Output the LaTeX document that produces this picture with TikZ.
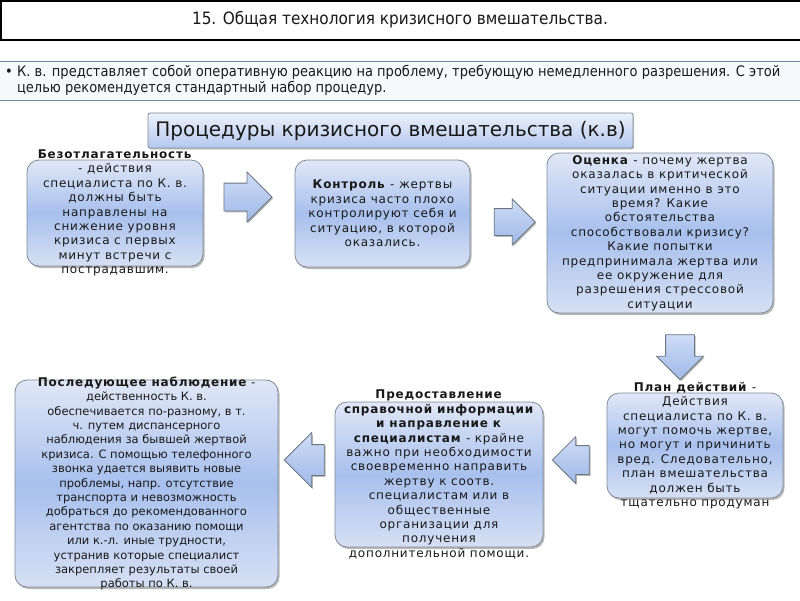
\documentclass[tikz,border=0pt]{standalone}
\usepackage{fontspec}
\setmainfont{DejaVu Sans}
\newfontfamily\condfont{DejaVu Sans Condensed}
\newfontfamily\boxfont{DejaVu Sans}[LetterSpace=6.5]
\usepackage{tikz}
\usetikzlibrary{shapes.arrows, shadows}
\usepackage{xcolor}
\definecolor{boxTop}{RGB}{224, 231, 247}
\definecolor{boxMid}{RGB}{168, 192, 237}
\definecolor{boxBot}{RGB}{214, 224, 244}
\definecolor{boxEdge}{RGB}{128, 138, 152}
\definecolor{arrowTop}{RGB}{206, 220, 246}
\definecolor{arrowBot}{RGB}{160, 185, 232}
\definecolor{arrowEdge}{RGB}{110, 118, 130}
\definecolor{bandEdge}{RGB}{110, 138, 162}
\definecolor{bandBg}{RGB}{247, 250, 253}
\definecolor{headTop}{RGB}{236, 241, 251}
\definecolor{headBot}{RGB}{180, 200, 238}
\definecolor{inkText}{RGB}{25, 25, 25}

\begin{document}
\begin{tikzpicture}[x=1pt, y=-1pt, font=\fontsize{11.5}{14.4}\selectfont,
  procbox/.style={draw=boxEdge, line width=0.8pt, rounded corners=12pt,
    top color=boxTop, bottom color=boxBot, middle color=boxMid, inner sep=0pt,
    drop shadow={shadow xshift=1.5pt, shadow yshift=-2pt, opacity=0.5, fill=black!55}},
  proctext/.style={align=center, inner sep=0pt, text=inkText,
    font=\boxfont\fontsize{12}{14.4}\selectfont},
  blockarrow/.style={single arrow, draw=arrowEdge, line width=0.8pt, inner xsep=0pt,
    top color=arrowTop, bottom color=arrowBot,
    drop shadow={shadow xshift=1.2pt, shadow yshift=-1.5pt, opacity=0.5, fill=black!55}}]
  \fill[white] (0,0) rectangle (800,600);
  \useasboundingbox (0,0) rectangle (800,600);

  \draw[line width=2.4pt, fill=white] (1.2,1.2) rectangle (802,39.8);
  \node[font=\condfont\fontsize{17}{19}\selectfont, text=inkText] (title) at (400,20)
    {15. Общая технология кризисного вмешательства.};

  \draw[draw=bandEdge, line width=1.6pt, fill=bandBg] (-2,61.5) rectangle (802,100.5);
  \node[font=\condfont\fontsize{14.5}{16}\selectfont, align=left, anchor=west, inner sep=0pt,
        text=inkText] (note) at (5,80.5)
    {• К. в. представляет собой оперативную реакцию на проблему, требующую немедленного разрешения. С этой\\
     \hphantom{•\ }целью рекомендуется стандартный набор процедур.};

  \node[draw=boxEdge, line width=0.8pt, rounded corners=2pt, top color=headTop, bottom color=headBot,
        minimum width=485pt, minimum height=35pt, inner sep=0pt, text=inkText,
        font=\fontsize{20}{22}\selectfont,
        drop shadow={shadow xshift=1.2pt, shadow yshift=-1.5pt, opacity=0.4, fill=black!55}]
    (proc) at (390.5,130.5) {Процедуры кризисного вмешательства (к.в)};

  \node[procbox, minimum width=176pt, minimum height=106pt] (b1) at (115,213) {};
  \node[proctext] (t1) at (b1.center)
    {\textbf{Безотлагательность}\\- действия\\специалиста по К. в.\\должны быть\\направлены на\\
     снижение уровня\\кризиса с первых\\минут встречи с\\пострадавшим.};

  \node[procbox, minimum width=175pt, minimum height=107pt] (b2) at (382.5,213.5) {};
  \node[proctext] (t2) at (b2.center)
    {\textbf{Контроль} - жертвы\\кризиса часто плохо\\контролируют себя и\\ситуацию, в которой\\оказались.};

  \node[procbox, minimum width=226pt, minimum height=160pt] (b3) at (660,233) {};
  \node[proctext] (t3) at (b3.center)
    {\textbf{Оценка} - почему жертва\\оказалась в критической\\ситуации именно в это\\время? Какие\\
     обстоятельства\\способствовали кризису?\\Какие попытки\\предпринимала жертва или\\
     ее окружение для\\разрешения стрессовой\\ситуации};

  \node[procbox, minimum width=176pt, minimum height=105pt] (b4) at (695,445.5) {};
  \node[proctext] (t4) at (b4.center)
    {\textbf{План действий} -\\Действия\\специалиста по К. в.\\могут помочь жертве,\\
     но могут и причинить\\вред. Следовательно,\\план вмешательства\\должен быть\\тщательно продуман};

  \node[procbox, minimum width=208pt, minimum height=145pt] (b5) at (439,474.5) {};
  \node[proctext] (t5) at (b5.center)
    {\textbf{Предоставление}\\\textbf{справочной информации}\\\textbf{и направление к}\\
     \textbf{специалистам} - крайне\\важно при необходимости\\своевременно направить\\
     жертву к соотв.\\специалистам или в\\общественные\\организации для\\получения\\
     дополнительной помощи.};

  \node[procbox, minimum width=263pt, minimum height=207pt] (b6) at (146.5,483.5) {};
  \node[proctext, font=\fontsize{11.5}{14.4}\selectfont] (t6) at (b6.center)
    {{\boxfont\fontsize{12}{14.4}\selectfont\textbf{Последующее наблюдение}} -\\действенность К. в.\\
     обеспечивается по-разному, в т.\\
     ч. путем диспансерного\\наблюдения за бывшей жертвой\\кризиса. С помощью телефонного\\
     звонка удается выявить новые\\проблемы, напр. отсутствие\\транспорта и невозможность\\
     добраться до рекомендованного\\агентства по оказанию помощи\\или к.-л. иные трудности,\\
     устранив которые специалист\\закрепляет результаты своей\\работы по К. в.};

  \node[blockarrow, minimum height=48pt, inner ysep=13.5pt, single arrow head extend=11pt]
    (a1) at (241,197) {};
  \node[blockarrow, minimum height=41pt, inner ysep=13pt, single arrow head extend=9.5pt]
    (a2) at (508,222) {};
  \node[blockarrow, minimum height=45pt, inner ysep=14pt, single arrow head extend=9pt,
        rotate=-90] (a3) at (680,350) {};
  \node[blockarrow, minimum height=37pt, inner ysep=14pt, single arrow head extend=9pt,
        rotate=180] (a4) at (578,460) {};
  \node[blockarrow, minimum height=40pt, inner ysep=15pt, single arrow head extend=12pt,
        rotate=180] (a5) at (312,460) {};
\end{tikzpicture}
\end{document}
